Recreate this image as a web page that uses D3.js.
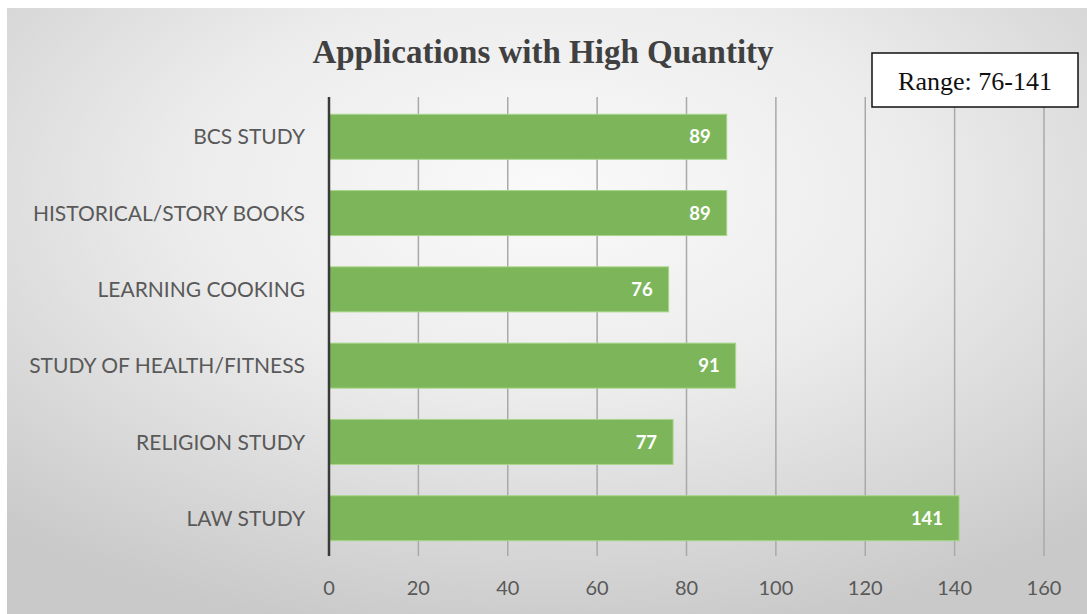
<!DOCTYPE html>
<html><head><meta charset="utf-8">
<script src="https://cdn.jsdelivr.net/npm/d3@7"></script>
<style>body{margin:0;background:#fff}svg{display:block}</style>
</head><body>
<svg id="c" width="1087" height="614"></svg>
<script>
const categories = ["BCS STUDY","HISTORICAL/STORY BOOKS","LEARNING COOKING","STUDY OF HEALTH/FITNESS","RELIGION STUDY","LAW STUDY"];
const values = [89, 89, 76, 91, 77, 141];
const xTicks = [0,20,40,60,80,100,120,140,160];
const titleText = "Applications with High Quantity";
const rangeText = "Range: 76-141";

const svg = d3.select("#c");
const defs = svg.append("defs");
const rg = defs.append("radialGradient").attr("id","bg").attr("cx","0.5").attr("cy","0.3").attr("r","0.75")
  .attr("gradientUnits","objectBoundingBox");
rg.append("stop").attr("offset","0").attr("stop-color","#fafafa");
rg.append("stop").attr("offset","0.45").attr("stop-color","#ececec");
rg.append("stop").attr("offset","1").attr("stop-color","#c9c9c9");
svg.append("rect").attr("x",7).attr("y",8).attr("width",1080).attr("height",606).attr("fill","url(#bg)");

const x = d3.scaleLinear().domain([0,160]).range([329,1044]);
const y = d3.scaleBand().domain(categories).range([99,556]).paddingInner(0.41).paddingOuter(0.2);

// gridlines
svg.append("g").selectAll("line").data(xTicks.filter(d=>d>0)).join("line")
  .attr("x1",d=>x(d)).attr("x2",d=>x(d)).attr("y1",97).attr("y2",556)
  .attr("stroke","#a9a9a9").attr("stroke-width",1.5);

// bars
svg.append("g").selectAll("rect").data(values).join("rect")
  .attr("x",x(0)).attr("y",(d,i)=>y(categories[i]))
  .attr("width",d=>x(d)-x(0)).attr("height",y.bandwidth())
  .attr("fill","#7db65a").attr("stroke","#a8d68a").attr("stroke-width",1);

// value labels
svg.append("g").selectAll("text").data(values).join("text")
  .attr("x",d=>x(d)-16).attr("y",(d,i)=>y(categories[i])+y.bandwidth()/2)
  .attr("dy","0.36em").attr("text-anchor","end")
  .attr("font-family","Lato, 'Open Sans', sans-serif").attr("font-weight","bold").attr("font-size",18.5)
  .attr("fill","#ffffff").text(d=>d);

// axis line
svg.append("line").attr("x1",x(0)).attr("x2",x(0)).attr("y1",97).attr("y2",556)
  .attr("stroke","#3a3a3a").attr("stroke-width",2.5);

// category labels
svg.append("g").selectAll("text").data(categories).join("text")
  .attr("x",305).attr("y",d=>y(d)+y.bandwidth()/2).attr("dy","0.36em").attr("text-anchor","end")
  .attr("font-family","Lato, 'Open Sans', sans-serif").attr("font-size",21)
  .attr("fill","#595959").text(d=>d);

// x tick labels
svg.append("g").selectAll("text").data(xTicks).join("text")
  .attr("x",d=>x(d)).attr("y",595).attr("text-anchor","middle")
  .attr("font-family","Lato, 'Open Sans', sans-serif").attr("font-size",20)
  .attr("fill","#595959").text(d=>d);

// title
svg.append("text").attr("x",543).attr("y",63).attr("text-anchor","middle")
  .attr("font-family","'Liberation Serif', 'Times New Roman', serif").attr("font-weight","bold").attr("font-size",33)
  .attr("fill","#404040").text(titleText);

// range box
svg.append("rect").attr("x",872).attr("y",53).attr("width",206).attr("height",54)
  .attr("fill","#ffffff").attr("stroke","#111").attr("stroke-width",1.5);
svg.append("text").attr("x",975).attr("y",90).attr("text-anchor","middle")
  .attr("font-family","'Liberation Serif', 'Times New Roman', serif").attr("font-size",26)
  .attr("fill","#111").text(rangeText);
</script>
</body></html>
